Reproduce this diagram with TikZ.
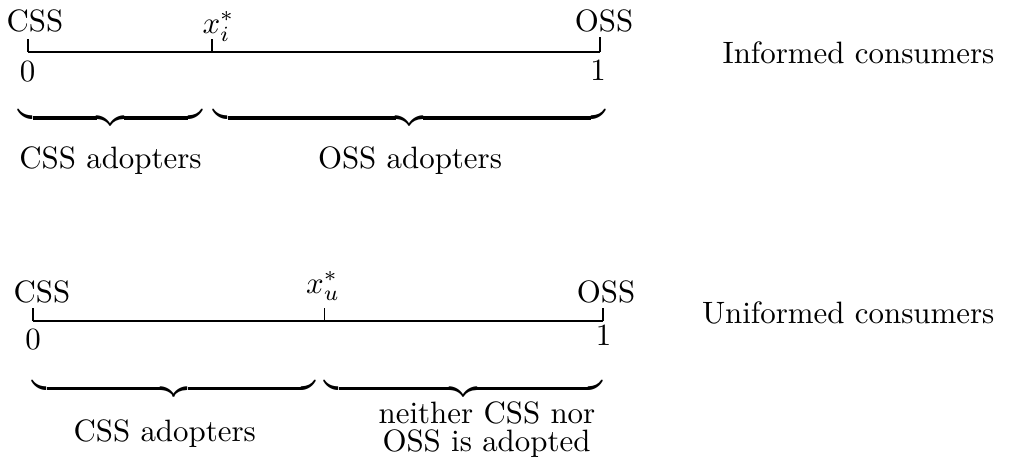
\documentclass[tikz,border=0pt]{standalone}
\begin{document}
\begin{tikzpicture}[x=0.3236pt, y=-0.3236pt,
  axis/.style={line width=0.7pt},
  tick/.style={line width=0.4pt},
  lbl/.style={inner sep=0pt, anchor=base},
  side/.style={inner sep=0pt, anchor=base east},
  brc/.style={inner sep=0pt, anchor=north}]
\useasboundingbox (0,0) rectangle (1013,461);

% ---------- informed consumers ----------
\coordinate (i0) at (28,52);
\coordinate (ix) at (212,52);
\coordinate (i1) at (600,52);
\coordinate (i0t) at (28,39);
\coordinate (ixt) at (212,39);
\coordinate (i1t) at (600,37);
\draw[axis] (i0) -- (i1);
\draw[tick] (i0) -- (i0t);
\draw[tick] (ix) -- (ixt);
\draw[tick] (i1) -- (i1t);

\node[lbl] (icss) at (35,31.7) {CSS};
\node[lbl] (ioss) at (604,31.7) {OSS};
\node[lbl] (izero) at (27.5,81) {0};
\node[lbl] (ione) at (598,80) {1};
\node[lbl] (ixs) at (218.5,33) {$x_i^*$};

\node[brc] (ibl) at (110.5,106) {$\underbrace{\hspace{59.22pt}}$};
\node[brc] (ibr) at (409.5,106) {$\underbrace{\hspace{126.53pt}}$};
\node[lbl] (icssa) at (110.5,168) {CSS adopters};
\node[lbl] (iossa) at (410,168) {OSS adopters};

\node[side] (inf) at (995,63.3) {Informed consumers};

% ---------- uninformed consumers ----------
\coordinate (u0) at (33,321);
\coordinate (ux) at (324.3,321);
\coordinate (u1) at (603,321);
\coordinate (u0t) at (33,308);
\coordinate (uxt) at (324.3,308);
\coordinate (u1t) at (603,308);
\draw[axis] (u0) -- (u1);
\draw[tick] (u0) -- (u0t);
\draw[tick] (ux) -- (uxt);
\draw[tick] (u1) -- (u1t);

\node[lbl] (ucss) at (42,302.7) {CSS};
\node[lbl] (uoss) at (606,302.7) {OSS};
\node[lbl] (uzero) at (33,349) {0};
\node[lbl] (uone) at (603.5,345) {1};
\node[lbl] (uxs) at (323,293) {$x_u^*$};

\node[brc] (ubl) at (174,376.7) {$\underbrace{\hspace{91.26pt}}$};
\node[brc] (ubr) at (463.5,376.7) {$\underbrace{\hspace{89.64pt}}$};
\node[lbl] (ucssa) at (164.7,441.7) {CSS adopters};
\node[lbl] (unone) at (487,423.3) {neither CSS nor};
\node[lbl] (unone2) at (486.5,451.7) {OSS is adopted};

\node[side] (uninf) at (995,323.3) {Uniformed consumers};
\end{tikzpicture}
\end{document}
